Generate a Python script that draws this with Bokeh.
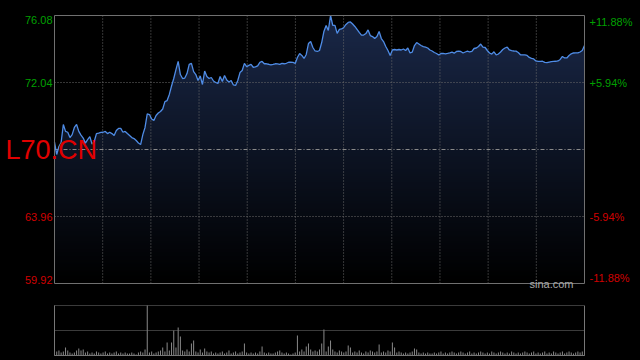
import numpy as np
from bokeh.plotting import figure
from bokeh.models import Range1d, Label
from bokeh.layouts import column
from bokeh.embed import file_html
from bokeh.resources import INLINE

symbol = "L70.CN"
source_tag = "sina.com"
prev_close = 68.00
price_ticks = [76.08, 72.04, 63.96, 59.92]
pct_labels = ["+11.88%", "+5.94%", "-5.94%", "-11.88%"]

prices = [
    68.44, 67.70, 68.18, 68.42, 69.51, 69.09, 69.04, 68.72, 68.90, 69.33,
    69.51, 69.09, 68.87, 68.69, 68.39, 68.60, 68.78, 68.33, 68.48, 68.96,
    68.99, 69.03, 69.04, 69.09, 68.96, 69.04, 68.96, 68.84, 69.15, 69.27,
    69.27, 69.04, 69.09, 68.96, 68.84, 68.72, 68.66, 68.54, 68.39, 68.30,
    68.90, 69.33, 70.15, 70.11, 69.84, 69.75, 70.05, 70.20, 70.29, 70.44,
    70.89, 70.95, 71.32, 71.83, 72.28, 72.82, 73.31, 72.52, 72.28, 72.31,
    72.58, 73.13, 73.19, 72.70, 72.52, 72.16, 72.43, 71.92, 72.73, 72.40,
    72.28, 72.34, 72.13, 72.04, 71.98, 72.40, 72.10, 72.46, 72.19, 72.07,
    72.16, 71.89, 71.86, 72.16, 72.64, 72.76, 73.19, 73.00, 73.07, 73.13,
    72.96, 72.98, 73.04, 73.25, 73.31, 73.17, 73.17, 73.14, 73.10, 73.13,
    73.17, 73.16, 73.13, 73.19, 73.17, 73.20, 73.26, 73.26, 73.25, 73.19,
    73.55, 73.79, 73.67, 73.49, 73.73, 74.39, 74.51, 74.15, 73.94, 73.91,
    73.97, 74.45, 75.12, 75.48, 75.18, 76.08, 75.48, 75.48, 75.00, 75.24,
    75.27, 75.36, 75.54, 75.66, 75.69, 75.57, 75.42, 75.24, 75.06, 74.90,
    74.90, 74.99, 75.21, 74.87, 74.81, 74.69, 74.81, 75.12, 74.69, 74.51,
    74.21, 73.97, 73.67, 74.00, 74.03, 74.00, 74.03, 74.00, 74.06, 73.97,
    74.12, 73.82, 73.87, 74.27, 74.45, 74.36, 74.27, 74.20, 74.17, 74.12,
    74.00, 73.94, 73.85, 73.79, 73.70, 73.79, 73.79, 73.77, 73.79, 73.82,
    73.87, 73.81, 73.91, 73.93, 73.91, 73.82, 73.88, 73.93, 73.88, 73.91,
    74.09, 74.12, 74.21, 74.36, 74.17, 74.15, 73.97, 73.82, 73.75, 73.89,
    73.70, 73.76, 73.88, 74.03, 74.12, 74.17, 74.00, 73.96, 73.94, 73.93,
    73.85, 73.71, 73.71, 73.70, 73.67, 73.55, 73.49, 73.46, 73.34, 73.31,
    73.31, 73.32, 73.25, 73.24, 73.27, 73.30, 73.31, 73.32, 73.34, 73.43,
    73.61, 73.52, 73.52, 73.67, 73.77, 73.82, 73.83, 73.83, 73.88, 73.97,
    74.27,
]

volumes = [
    6, 4, 5, 3, 4, 8, 5, 3, 2, 3,
    5, 7, 5, 6, 3, 4, 2, 3, 2, 4,
    3, 2, 3, 4, 2, 3, 2, 3, 4, 2,
    3, 2, 3, 2, 2, 3, 2, 1, 3, 4,
    3, 6, 50, 3, 4, 2, 3, 4, 5, 8,
    4, 13, 5, 13, 25, 8, 28, 19, 5, 4,
    6, 4, 12, 15, 4, 3, 6, 3, 7, 4,
    3, 4, 2, 3, 2, 3, 4, 2, 3, 5,
    2, 3, 4, 2, 3, 4, 12, 3, 2, 3,
    2, 3, 2, 4, 9, 3, 2, 3, 2, 2,
    3, 4, 5, 3, 2, 3, 2, 1, 2, 3,
    20, 4, 6, 4, 9, 12, 6, 4, 5, 4,
    6, 12, 26, 4, 9, 15, 6, 4, 3, 5,
    4, 3, 4, 10, 8, 3, 4, 3, 5, 3,
    2, 4, 3, 5, 4, 3, 4, 11, 3, 4,
    3, 5, 4, 13, 8, 3, 4, 3, 2, 3,
    2, 3, 4, 7, 6, 3, 2, 3, 2, 3,
    2, 2, 3, 2, 3, 4, 2, 3, 2, 3,
    4, 3, 2, 3, 4, 3, 2, 3, 4, 2,
    3, 2, 3, 4, 3, 2, 3, 2, 4, 3,
    2, 3, 4, 3, 2, 3, 2, 4, 3, 2,
    3, 2, 3, 4, 3, 2, 3, 4, 2, 3,
    2, 3, 4, 2, 3, 2, 4, 3, 2, 3,
    4, 2, 3, 4, 3, 2, 3, 4, 3, 4,
    5,
]

minutes = list(range(len(prices)))
x_end = len(prices) - 1
y_lo, y_hi = price_ticks[-1], price_ticks[0]

FONT = "Liberation Sans"
GREEN = "#00a000"
RED = "#d00000"
GRID = "#6c6c6c"
BORDER = "#707070"

W = 640
LEFT, RIGHT = 54, 584          # plot area, window pixels
MAIN_H, TOP, BOT = 292, 15, 283
VOL_H, VTOP, VBOT = 68, 13, 63  # inside the volume canvas

# x range so that 0 -> LEFT and x_end -> RIGHT with the frame covering the canvas
ux = (RIGHT - LEFT) / x_end
xr = (-LEFT / ux, x_end + (W - RIGHT) / ux)


def yrange(lo, hi, h, top, bot):
    u = (bot - top) / (hi - lo)
    return hi + top / u, lo - (h - bot) / u


# ---------------- main price chart ----------------
y_top, y_bot = yrange(y_lo, y_hi, MAIN_H, TOP, BOT)
p = figure(width=W, height=MAIN_H, x_range=Range1d(*xr), y_range=Range1d(y_bot, y_top),
           x_axis_type=None, y_axis_type=None, output_backend="svg", toolbar_location=None,
           min_border=0, background_fill_color="black", border_fill_color="black",
           outline_line_color=None)
p.grid.visible = False

# vertical gradient below the price line
N = 200
t = np.linspace(0.0, 1.0, N)
top_rgb = (26, 40, 72)
img = np.empty((N, 1), dtype=np.uint32)
view = img.view(dtype=np.uint8).reshape((N, 1, 4))
view[:, 0, 0] = (top_rgb[0] * t).astype(np.uint8)
view[:, 0, 1] = (top_rgb[1] * t).astype(np.uint8)
view[:, 0, 2] = (top_rgb[2] * t).astype(np.uint8)
view[:, 0, 3] = 255
p.image_rgba(image=[img], x=0, y=y_lo, dw=x_end, dh=y_hi - y_lo)
# mask above the line
p.varea(x=minutes, y1=prices, y2=y_hi, fill_color="black")

# grid lines
n_div = 11
vx = [x_end * k / n_div for k in range(1, n_div)]
p.segment(x0=vx, y0=[y_lo] * len(vx), x1=vx, y1=[y_hi] * len(vx),
          line_color=GRID, line_width=1, line_dash="1 2")
hy = [price_ticks[1], price_ticks[2]]
p.segment(x0=[0, 0], y0=hy, x1=[x_end, x_end], y1=hy,
          line_color=GRID, line_width=1, line_dash="1 2")
p.segment(x0=[0], y0=[prev_close], x1=[x_end], y1=[prev_close],
          line_color="#8a8a8a", line_width=1, line_dash="4 2 1 2")

p.line(minutes, prices, line_color="#4f8ce6", line_width=1.3)

# frame border
p.quad(left=[0], right=[x_end], bottom=[y_lo], top=[y_hi], fill_color=None,
       line_color=BORDER, line_width=1)

# tick labels
aligns = ["top", "middle", "middle", "bottom"]
colors = [GREEN, GREEN, RED, RED]
for v, lab, base, c in zip(price_ticks, pct_labels, aligns, colors):
    p.add_layout(Label(x=LEFT - 2, y=v, x_units="screen", text=f"{v:.2f}", text_align="right",
                       text_baseline=base, text_color=c, text_font=FONT, text_font_size="11px"))
    p.add_layout(Label(x=RIGHT + 5, y=v, x_units="screen", text=lab, text_align="left",
                       text_baseline=base, text_color=c, text_font=FONT, text_font_size="11px"))

p.add_layout(Label(x=5, y=prev_close, x_units="screen", text=symbol, text_align="left",
                   text_baseline="middle", text_color="#e00000", text_font=FONT,
                   text_font_size="27px"))
p.add_layout(Label(x=RIGHT - 11, y=y_lo, x_units="screen", text=source_tag, text_align="right",
                   text_baseline="alphabetic", text_color="#aaaaaa", text_font=FONT,
                   text_font_size="11px"))

# ---------------- volume chart ----------------
vmax = max(volumes)
v_top, v_bot = yrange(0, vmax, VOL_H, VTOP, VBOT)
pv = figure(width=W, height=VOL_H, x_range=Range1d(*xr), y_range=Range1d(v_bot, v_top),
            x_axis_type=None, y_axis_type=None, output_backend="svg", toolbar_location=None,
            min_border=0, background_fill_color="black", border_fill_color="black",
            outline_line_color=None)
pv.grid.visible = False
pv.vbar(x=minutes, top=volumes, width=0.45, fill_color="#8a8a8a", line_color=None)
pv.segment(x0=[0, 0], y0=[vmax, vmax / 2], x1=[x_end, x_end], y1=[vmax, vmax / 2],
           line_color="#777777", line_width=1, line_dash="1 1")
pv.segment(x0=[0, 0, x_end], y0=[0, 0, 0], x1=[x_end, 0, x_end], y1=[0, vmax, vmax],
           line_color="#777777", line_width=1)

layout = column(p, pv, spacing=0, styles={"background-color": "black"})
open("out.html", "w").write(file_html(layout, INLINE))
